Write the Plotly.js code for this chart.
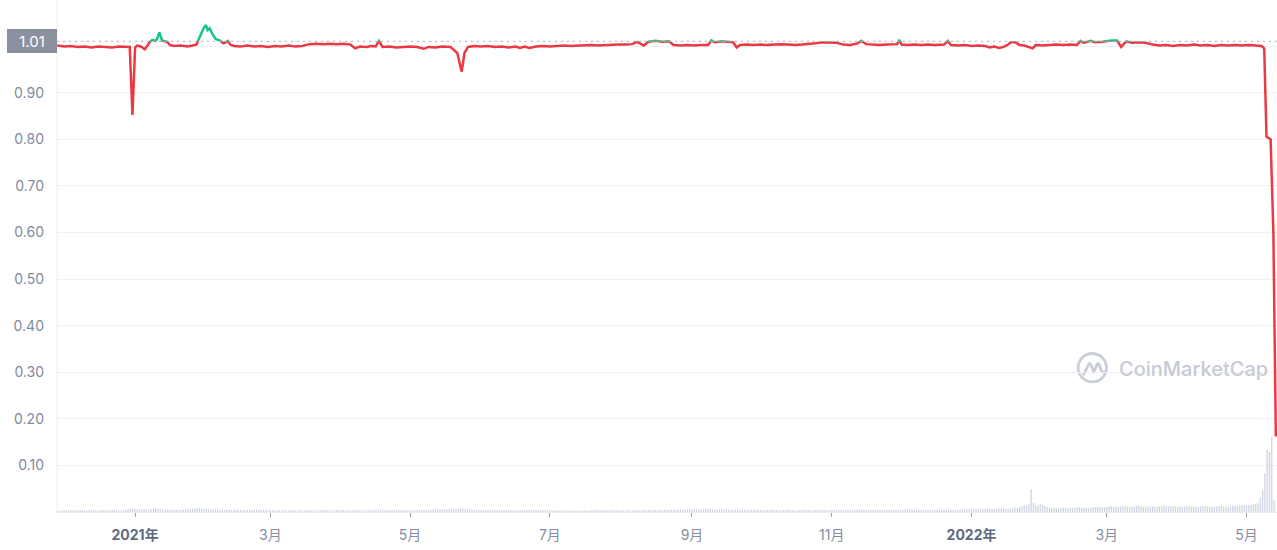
<!DOCTYPE html>
<html>
<head>
<meta charset="utf-8">
<script src="https://cdn.plot.ly/plotly-3.0.1.min.js"></script>
<style>
  html, body { margin: 0; padding: 0; background: #ffffff; }
  #chart { width: 1277px; height: 550px; }
</style>
</head>
<body>
<div id="chart"></div>
<script>
// ---------------- DATA ----------------
// Price (USD) — [timestamp, price]
const priceSeg1 = [
  ['2020-11-28',1.001],['2020-12-01',0.999],['2020-12-04',1.000],['2020-12-07',0.998],['2020-12-10',0.999],
  ['2020-12-13',0.997],['2020-12-16',0.999],['2020-12-19',0.998],['2020-12-22',0.997],['2020-12-25',0.999],
  ['2020-12-28',0.998],['2020-12-29 16:00',0.998],['2020-12-30 20:00',0.852],['2021-01-01 00:00',0.997],
  ['2021-01-02',1.001],['2021-01-03 12:00',0.999],['2021-01-05 06:00',0.993],['2021-01-06 06:00',1.000],
  ['2021-01-07 12:00',1.009],['2021-01-08 12:00',1.013],['2021-01-09 18:00',1.011],['2021-01-10 12:00',1.014],
  ['2021-01-11 14:00',1.029],['2021-01-12 18:00',1.012],['2021-01-13 18:00',1.010],['2021-01-15 00:00',1.009],
  ['2021-01-16 06:00',1.002],['2021-01-18',1.000],['2021-01-21',1.001],['2021-01-24',0.999],['2021-01-26',1.001],
  ['2021-01-27 18:00',1.003],['2021-01-29 06:00',1.020],['2021-01-31 00:00',1.039],['2021-01-31 22:00',1.045],
  ['2021-02-01 16:00',1.034],['2021-02-02 14:00',1.038],['2021-02-03 14:00',1.027],['2021-02-05 02:00',1.015],
  ['2021-02-06 06:00',1.013],['2021-02-07 06:00',1.011],['2021-02-08 16:00',1.006],['2021-02-10 12:00',1.011],
  ['2021-02-11 14:00',1.003],['2021-02-13',1.000]
];
const priceSeg2 = [
  ['2021-02-16',0.999],['2021-02-19',1.001],['2021-02-22',0.999],['2021-02-25',1.000],['2021-02-28',0.998],
  ['2021-03-03',1.000],['2021-03-06',0.999],['2021-03-09',1.001],['2021-03-12',0.999],['2021-03-15',1.000],
  ['2021-03-18',1.004],['2021-03-21',1.005],['2021-03-24',1.004],['2021-03-27',1.005],['2021-03-30',1.004],
  ['2021-04-02',1.005],['2021-04-05',1.003],['2021-04-07',0.995],['2021-04-09',0.999],['2021-04-12',0.998],
  ['2021-04-14',1.000],['2021-04-16',0.999],['2021-04-17 10:00',1.011],['2021-04-19',0.998],['2021-04-22',0.999],
  ['2021-04-25',0.997],['2021-04-28',0.998],['2021-05-01',0.999],['2021-05-04',0.998],['2021-05-07',0.994],
  ['2021-05-09',0.998],['2021-05-12',0.997],['2021-05-15',0.999],['2021-05-18 14:00',0.998],['2021-05-21 14:00',0.985],
  ['2021-05-23 12:00',0.945],['2021-05-24 18:00',0.985],['2021-05-26 06:00',0.998],['2021-05-29',1.000],['2021-06-01',0.999]
];
const priceSeg3 = [
  ['2021-06-04',1.000],['2021-06-07',0.998],['2021-06-10',0.999],['2021-06-13',0.997],['2021-06-16',0.999],
  ['2021-06-18',0.996],['2021-06-20',0.999],['2021-06-22',0.996],['2021-06-25',0.999],['2021-06-28',1.000],
  ['2021-07-01',0.999],['2021-07-04',1.000],['2021-07-07',1.001],['2021-07-10',1.000],['2021-07-13',1.001],
  ['2021-07-16',1.001],['2021-07-19',1.002],['2021-07-22',1.001],['2021-07-25',1.002],['2021-07-28',1.002],
  ['2021-07-31',1.003],['2021-08-03',1.003],['2021-08-06',1.004],['2021-08-08',1.009],['2021-08-11',1.001],
  ['2021-08-13',1.009],['2021-08-16',1.011],['2021-08-19',1.009],['2021-08-22',1.010],['2021-08-24',1.002],
  ['2021-08-27',1.001],['2021-08-30',1.002],['2021-09-02',1.001],['2021-09-05',1.002],['2021-09-08',1.002],
  ['2021-09-09 12:00',1.012],['2021-09-11',1.008],['2021-09-14',1.010],['2021-09-17',1.008],['2021-09-19',1.008],
  ['2021-09-20 12:00',0.997],['2021-09-22',1.002],['2021-09-25',1.003],['2021-09-28',1.002],['2021-10-01',1.003],
  ['2021-10-04',1.002],['2021-10-07',1.003],['2021-10-10',1.004],['2021-10-13',1.003],['2021-10-16',1.002],
  ['2021-10-19',1.003],['2021-10-22',1.004],['2021-10-25',1.006],['2021-10-28',1.008],['2021-10-31',1.007],
  ['2021-11-03',1.007],['2021-11-06',1.003],['2021-11-09',1.002],['2021-11-12',1.005],['2021-11-14',1.011],
  ['2021-11-16',1.004],['2021-11-19',1.003],['2021-11-22',1.002],['2021-11-25',1.003],['2021-11-28',1.004],
  ['2021-11-29 12:00',1.004],['2021-11-30 12:00',1.013],['2021-12-01 12:00',1.003],['2021-12-04',1.002],
  ['2021-12-07',1.003],['2021-12-10',1.002],['2021-12-13',1.003],['2021-12-16',1.002],['2021-12-19',1.003],
  ['2021-12-20',1.003],['2021-12-21 16:00',1.011],['2021-12-23',1.002],['2021-12-26',1.001],['2021-12-29',1.002]
];
const priceSeg4 = [
  ['2022-01-01',1.000],['2022-01-04',1.001],['2022-01-07',1.000],['2022-01-09',0.997],['2022-01-11',0.999],
  ['2022-01-13',0.996],['2022-01-15',0.998],['2022-01-17',1.003],['2022-01-18',1.008],['2022-01-20',1.008],
  ['2022-01-22',1.002],['2022-01-24',1.001],['2022-01-27 16:00',0.995],['2022-01-29',1.002],['2022-02-01',1.001],
  ['2022-02-04',1.002],['2022-02-07',1.003],['2022-02-10',1.002],['2022-02-13',1.003],['2022-02-16',1.002],
  ['2022-02-17 12:00',1.011],['2022-02-19',1.007],['2022-02-22',1.011],['2022-02-24',1.008],['2022-02-27',1.009],
  ['2022-03-03',1.012],['2022-03-05 12:00',1.012],['2022-03-07 06:00',0.998],['2022-03-09 12:00',1.010],
  ['2022-03-12',1.007],['2022-03-15',1.008],['2022-03-18',1.007],['2022-03-21',1.003],['2022-03-24',1.001],
  ['2022-03-27',1.002],['2022-03-30',1.000],['2022-04-02',1.002],['2022-04-05',1.001],['2022-04-08',1.003],
  ['2022-04-11',1.001],['2022-04-14',1.002],['2022-04-17',1.000],['2022-04-20',1.002],['2022-04-23',1.001],
  ['2022-04-26',1.002],['2022-04-29',1.001],['2022-05-02',1.002],['2022-05-05',1.001],['2022-05-07 14:00',1.000],
  ['2022-05-08 17:00',0.995],['2022-05-09 17:00',0.805],['2022-05-11 12:00',0.800],['2022-05-12 17:00',0.600],
  ['2022-05-13 19:00',0.162]
];

// Daily trading volume (million USD), one array per month
const volMonthStarts = ['2020-11-28','2020-12-01','2021-01-01','2021-02-01','2021-03-01','2021-04-01','2021-05-01',
  '2021-06-01','2021-07-01','2021-08-01','2021-09-01','2021-10-01','2021-11-01','2021-12-01',
  '2022-01-01','2022-02-01','2022-03-01','2022-04-01','2022-05-01'];
const volByMonth = [
  [180,140,160],
  [150,170,130,190,210,160,140,180,200,150,130,170,190,220,160,140,180,210,170,150,190,230,260,200,170,180,210,240,280,350,300],
  [320,280,260,240,300,270,250,290,310,340,380,300,260,240,220,200,210,230,200,190,220,240,260,280,300,330,360,420,380,350,300],
  [340,310,280,260,240,250,230,220,210,240,220,200,190,210,230,200,180,190,210,200,220,240,260,230,210,200,190,180],
  [190,170,180,200,210,190,170,160,180,200,190,170,160,150,170,180,190,200,180,170,160,170,190,210,200,180,170,160,180,190,200],
  [210,190,180,170,160,180,200,220,190,170,160,150,170,180,200,220,240,260,230,210,200,190,180,170,190,200,210,190,180,170],
  [160,170,180,190,200,210,190,180,200,220,240,260,280,260,240,230,250,280,320,300,270,290,380,340,300,280,260,240,230,220,210],
  [200,190,180,170,190,200,180,170,160,170,180,190,200,180,170,160,150,170,180,190,210,230,220,200,190,180,170,160,170,180],
  [170,160,150,160,170,180,170,160,150,140,150,160,170,160,150,140,150,160,170,180,190,200,190,180,170,160,170,180,190,200,190],
  [180,170,160,170,180,190,200,190,180,170,180,190,200,210,200,190,180,190,200,210,220,230,220,210,200,210,220,230,240,250,260],
  [280,300,260,240,250,270,300,320,280,260,240,230,220,240,260,250,230,220,210,220,230,240,230,220,210,200,210,220,230,220],
  [210,200,190,200,210,220,210,200,190,180,190,200,210,200,190,180,170,180,190,200,210,200,190,180,190,200,210,220,210,200,190],
  [200,210,220,230,220,210,200,210,220,230,240,250,240,230,220,210,200,210,220,230,220,210,200,190,200,210,220,230,240,230],
  [220,230,240,250,260,250,240,230,220,210,220,230,240,230,220,210,220,230,240,250,240,230,220,210,220,230,240,250,260,270,280],
  [300,320,280,260,280,300,320,340,300,280,260,300,340,380,360,320,300,340,380,420,460,500,600,700,650,800,2300,900,700,600,800],
  [700,600,500,450,400,420,380,360,400,450,420,380,360,400,420,460,500,450,420,400,380,420,460,500,540,500,460,480],
  [520,560,600,540,500,480,560,620,580,540,500,520,560,600,640,580,540,520,560,600,580,540,520,560,600,620,580,540,560,600,580],
  [560,540,520,560,600,640,580,540,520,500,540,580,600,560,520,500,540,560,600,580,540,520,560,600,640,620,580,600,640,700],
  [650,700,750,800,850,900,1400,2200,3900,6200,6000,7500,1200]
];

// Axis labels
const xTickVals = ['2021-01-01','2021-03-01','2021-05-01','2021-07-01','2021-09-01','2021-11-01','2022-01-01','2022-03-01','2022-05-01'];
const xTickText = ['2021年','3月','5月','7月','9月','11月','2022年','3月','5月'];
const xTickIsYear = [true,false,false,false,false,false,true,false,false];
const yTickVals = [0.1,0.2,0.3,0.4,0.5,0.6,0.7,0.8,0.9,1.0];
const yTickText = ['0.10','0.20','0.30','0.40','0.50','0.60','0.70','0.80','0.90',''];
const refPrice = 1.01;
const refPriceLabel = '1.01';

// ---------------- BUILD ----------------
const allPrices = [].concat(priceSeg1, priceSeg2, priceSeg3, priceSeg4);
const pDates = allPrices.map(p => p[0]);
const pVals = allPrices.map(p => p[1]);

const vDates = [], vVals = [];
volMonthStarts.forEach((start, i) => {
  const d0 = new Date(start + 'T00:00:00Z');
  volByMonth[i].forEach((v, k) => {
    const d = new Date(d0.getTime() + k * 86400000);
    vDates.push(d.toISOString().slice(0, 10));
    vVals.push(v);
  });
});

const FONT = "Inter, 'Noto Sans CJK SC', 'Noto Sans', sans-serif";
const RED = '#ea3943', GREEN = '#16c784';
const PLOT_H = 512;
const PX_PER_UNIT = 466;
const YTOP = PLOT_H / PX_PER_UNIT;      // top of the price scale
const SPLIT = refPrice / YTOP;           // domain fraction where colours switch
const VOL_TOP = PLOT_H * SPLIT * 100;    // 100M per pixel

const ticktext = xTickText.map((t, i) => xTickIsYear[i]
  ? '<span style="color:#5f6b80;font-weight:bold">' + t + '</span>' : t);

const traces = [
  { type: 'bar', x: vDates, y: vVals, yaxis: 'y', xaxis: 'x',
    marker: { color: 'rgba(196,204,220,0.85)', line: { width: 0 } }, hoverinfo: 'skip' },
  { type: 'scatter', mode: 'lines', x: pDates, y: pVals, yaxis: 'y2', xaxis: 'x',
    line: { color: RED, width: 2.5 }, hoverinfo: 'skip' },
  { type: 'scatter', mode: 'lines', x: pDates, y: pVals, yaxis: 'y3', xaxis: 'x',
    line: { color: GREEN, width: 2.5 }, hoverinfo: 'skip' }
];

const logoSvg = "<svg xmlns='http://www.w3.org/2000/svg' viewBox='0 0 32 32'>" +
  "<g fill='none' stroke='#c9ced8' stroke-width='2.8' stroke-linecap='round' stroke-linejoin='round'>" +
  "<circle cx='16' cy='16' r='14.2'/>" +
  "<path d='M7.5,22.5 L12.3,12.8 Q13.4,10.8 14.5,12.8 L17.6,20.5 L20.6,12.8 Q21.7,10.8 22.8,12.8 L24.6,18.3 Q26,21.6 28.8,19.8'/>" +
  "</g></svg>";

const layout = {
  width: 1277, height: 550,
  margin: { l: 57, r: 0, t: 0, b: 38, pad: 0 },
  paper_bgcolor: '#ffffff', plot_bgcolor: 'rgba(0,0,0,0)',
  font: { family: FONT, color: '#808a9d', size: 14 },
  showlegend: false, hovermode: false, bargap: 0.45,
  xaxis: {
    type: 'date', range: ['2020-11-27 22:00', '2022-05-14 07:00'], anchor: 'y',
    showgrid: false, zeroline: false, showline: true, linecolor: '#e8ebf0', linewidth: 1,
    ticks: 'outside', ticklen: 4, tickwidth: 1, tickcolor: '#9aa2b1',
    tickvals: xTickVals, ticktext: ticktext, ticklabelstandoff: 6,
    tickfont: { family: FONT, size: 14, color: '#858ea0' }, fixedrange: true
  },
  yaxis: { domain: [0, SPLIT], range: [0, VOL_TOP], visible: false, fixedrange: true },
  yaxis2: {
    overlaying: 'y', side: 'left', range: [0, refPrice],
    tickvals: yTickVals, ticktext: yTickText, ticks: '', ticklabelstandoff: 12,
    showgrid: true, gridcolor: '#eff1f4', gridwidth: 1, zeroline: false, showline: false,
    tickfont: { family: FONT, size: 14, color: '#808a9d' }, fixedrange: true
  },
  yaxis3: { domain: [SPLIT, 1], range: [refPrice, YTOP], visible: false, fixedrange: true, anchor: 'x' },
  shapes: [
    { type: 'line', xref: 'paper', yref: 'paper', x0: 0, x1: 0, y0: 0, y1: 1,
      line: { color: '#eceef2', width: 1 }, layer: 'below' },
    { type: 'line', xref: 'paper', yref: 'paper', x0: 0, x1: 1, y0: SPLIT, y1: SPLIT,
      line: { color: '#a7aebb', width: 1, dash: '2px,4px' }, layer: 'above' }
  ],
  annotations: [
    { xref: 'paper', yref: 'paper', x: 0, y: SPLIT, xanchor: 'right', yanchor: 'middle',
      text: refPriceLabel, showarrow: false, bgcolor: '#8b919e', borderwidth: 0, borderpad: 3,
      width: 44, height: 18, align: 'center', valign: 'middle',
      font: { family: FONT, size: 15, color: '#ffffff' } },
    { xref: 'paper', yref: 'paper', x: (1117 - 57) / 1220, y: (512 - 369) / 512,
      xanchor: 'left', yanchor: 'middle', text: 'CoinMarketCap', showarrow: false,
      font: { family: FONT, size: 20, color: '#c6cbd5', weight: 500 } }
  ],
  images: [
    { source: 'data:image/svg+xml;utf8,' + encodeURIComponent(logoSvg),
      xref: 'paper', yref: 'paper', x: (1076.3 - 57) / 1220, y: (512 - 351.7) / 512,
      sizex: 32 / 1220, sizey: 32 / 512, xanchor: 'left', yanchor: 'top', sizing: 'stretch', layer: 'below' }
  ]
};

Plotly.newPlot('chart', traces, layout, { displayModeBar: false, staticPlot: true });
</script>
</body>
</html>
